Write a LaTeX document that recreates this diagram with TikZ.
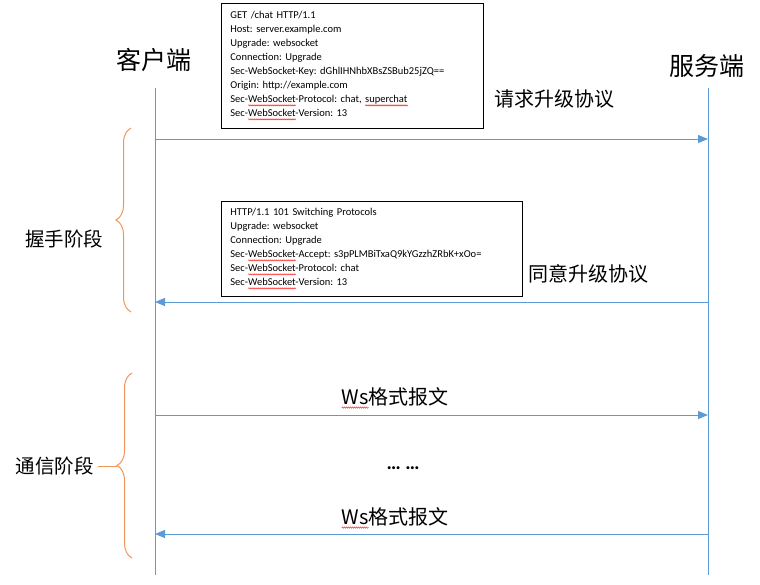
\documentclass[tikz,border=0pt]{standalone}
\usepackage{fontspec}
\setmainfont{Carlito}
\newfontfamily\cjk{Noto Sans CJK SC}
\usetikzlibrary{arrows.meta,decorations.pathreplacing,decorations.pathmorphing,positioning}
\definecolor{lifeblue}{RGB}{91,155,213}
\definecolor{braceorange}{RGB}{240,150,90}

\newlength\spellwd
\newcommand\spellwave[1]{\settowidth\spellwd{#1}\rlap{\tikz[baseline=0pt]\draw[-, red, line width=0.4pt, decorate, decoration={snake, amplitude=0.7pt, segment length=2pt}] (0pt,-2.6pt) -- (\spellwd,-2.6pt);}#1}

\tikzset{
  role/.style={font=\cjk\fontsize{25}{25}\selectfont},
  phase/.style={font=\cjk\fontsize{19.5}{19.5}\selectfont},
  msglabel/.style={font=\cjk\fontsize{20}{20}\selectfont, text=black},
  life/.style={draw=lifeblue, line width=1pt},
  msg/.style={draw=lifeblue, line width=1pt, -{Triangle[length=10pt,width=8pt]}},
  httpbox/.style={draw, line width=0.8pt, anchor=north west, align=left, inner xsep=9pt, font=\frenchspacing\fontsize{10.5}{14}\selectfont},
  phasebrace/.style={draw=braceorange, line width=1pt, decorate, decoration={brace, amplitude=15pt}},
}

\begin{document}
\begin{tikzpicture}[x=1pt,y=-1pt]
\useasboundingbox (0,0) rectangle (760,584);

% the two sides
\node[role] (client) at (154,60) {客户端};
\node[role] (server) at (707,66) {服务端};
\coordinate (c0) at (155,88);
\coordinate (c9) at (155,575);
\coordinate (s0) at (708,88);
\coordinate (s9) at (708,575);
\draw[life] (c0) -- (c9);
\draw[life] (s0) -- (s9);

% handshake
\node[httpbox, minimum width=262, minimum height=125, text width=244] (req) at (221,3) {GET /chat HTTP/1.1\\
Host: server.example.com\\
Upgrade: websocket\\
Connection: Upgrade\\
Sec-WebSocket-Key: dGhlIHNhbXBsZSBub25jZQ==\\
Origin: http://example.com\\
Sec-\spellwave{WebSocket}-Protocol: chat, \spellwave{superchat}\\
Sec-\spellwave{WebSocket}-Version: 13};
\node[msglabel, anchor=west] (reqlbl) at (491,99) {请求升级协议};
\coordinate (c1) at (155,139);
\coordinate (s1) at (708,139);
\draw[msg] (c1) -- (s1);

\node[httpbox, minimum width=301, minimum height=95, text width=283] (resp) at (221,201) {HTTP/1.1 101 Switching Protocols\\
Upgrade: websocket\\
Connection: Upgrade\\
Sec-\spellwave{WebSocket}-Accept: s3pPLMBiTxaQ9kYGzzhZRbK+xOo=\\
Sec-\spellwave{WebSocket}-Protocol: chat\\
Sec-\spellwave{WebSocket}-Version: 13};
\node[msglabel, anchor=west] (resplbl) at (525,274) {同意升级协议};
\coordinate (c2) at (155,302);
\coordinate (s2) at (708,302);
\draw[msg] (s2) -- (c2);

\coordinate (b1top) at (131,128);
\coordinate (b1bot) at (131,312);
\draw[phasebrace] (b1bot) -- (b1top);
\node[phase] (hand) at (64,239) {握手阶段};

% data transfer
\coordinate (c3) at (155,415);
\coordinate (s3) at (708,415);
\draw[msg] (c3) -- node[msglabel, above=3pt, pos=0.434] (ws1) {\spellwave{Ws}格式报文} (s3);
\node[font=\bfseries\fontsize{20}{20}\selectfont] (dots) at (403,468) {\ldots\ \ldots};
\coordinate (c4) at (155,534);
\coordinate (s4) at (708,534);
\draw[msg] (s4) -- node[msglabel, above=2pt, pos=0.566] (ws2) {\spellwave{Ws}格式报文} (c4);

\coordinate (b2top) at (132,373);
\coordinate (b2bot) at (132,558);
\coordinate (b2tip) at (117,466);
\draw[phasebrace] (b2bot) -- (b2top);
\node[phase] (comm) at (55,466) {通信阶段};
\draw[draw=braceorange, line width=1pt] (comm) -- (b2tip);
\end{tikzpicture}
\end{document}
